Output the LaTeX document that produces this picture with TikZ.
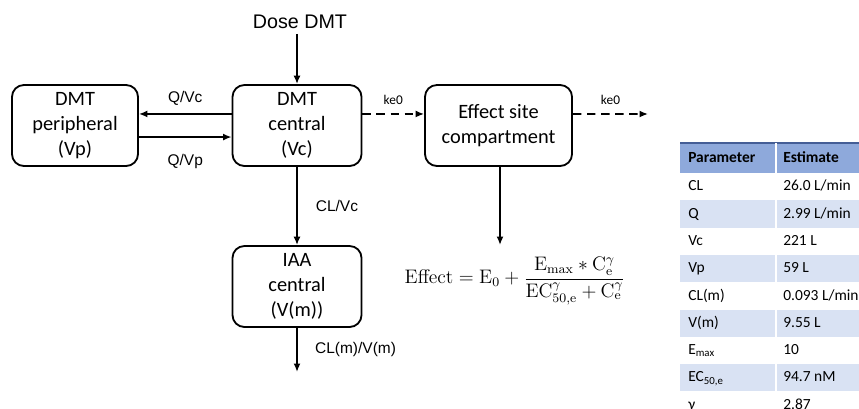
\documentclass[tikz,border=0pt]{standalone}
\usepackage{amsmath}
\usepackage[no-math]{fontspec}
\setmainfont{Carlito}
\newfontfamily\arialfont{Liberation Sans}
\usetikzlibrary{arrows.meta}

\definecolor{hdblue}{RGB}{142,169,219}
\definecolor{rowblue}{RGB}{217,226,243}
\definecolor{hdline}{RGB}{68,94,150}

\begin{document}
\begin{tikzpicture}[
        x=0.025cm, y=-0.025cm,
        comp/.style={draw, line width=1.3pt, rounded corners=8.5pt, align=center,
            minimum height=2.025cm, font=\fontsize{14.5}{17.8}\selectfont},
        arr/.style={line width=1.2pt, -{Latex[length=6pt, width=5pt]}},
        dash arr/.style={arr, dash pattern=on 6pt off 4pt},
        lbl/.style={font=\arialfont\fontsize{11}{13}\selectfont},
        kelbl/.style={font=\fontsize{9.5}{11}\selectfont},
        tab/.style={anchor=west, inner sep=0pt, text height=1.5ex, text depth=.25ex,
            font=\fontsize{11}{13}\selectfont}
    ]
    \useasboundingbox (0,0) rectangle (859,408);

    % compartments
    \node (dose) at (300,22) {\arialfont\fontsize{14}{16}\selectfont Dose DMT};
    \node[comp, minimum width=3.15cm] (periph) at (75,125.5) {DMT\\peripheral\\(Vp)};
    \node[comp, minimum width=3.225cm] (central) at (297,125.5) {DMT\\central\\(Vc)};
    \node[comp, minimum width=3.675cm] (effect) at (498.5,125.5) {Effect site\\compartment};
    \node[comp, minimum width=3.225cm] (iaa) at (297,286.5) {IAA\\central\\(V(m))};
    \node[scale=1.16] (eqn) at (515,281) {\fontsize{12}{14}\selectfont
        $\mathrm{Effect} = \mathrm{E}_0 +
        \dfrac{\mathrm{E}_{\mathrm{max}} \ast \mathrm{C}_{\mathrm{e}}^{\gamma}}
              {\mathrm{EC}_{50,\mathrm{e}}^{\gamma} + \mathrm{C}_{\mathrm{e}}^{\gamma}}$};

    \coordinate (keout) at (648,114);
    \coordinate (eff) at (500,245);
    \coordinate (mout) at (297,372);

    % flows
    \draw[arr] (dose.south -| central) -- (central);
    \draw[arr] ([yshift=8.2pt]central.west) -- node[lbl, above=2pt] (qvc) {Q/Vc}
        ([yshift=8.2pt]periph.east);
    \draw[arr] ([yshift=-8.2pt]periph.east) -- node[lbl, below=8pt] (qvp) {Q/Vp}
        ([yshift=-8.2pt]central.west);
    \draw[dash arr] ([yshift=8.2pt]central.east) -- node[kelbl, above=3pt] (kein) {ke0}
        ([yshift=8.2pt]effect.west);
    \draw[dash arr] ([yshift=8.2pt]effect.east) -- node[kelbl, above=3pt] (keel) {ke0} (keout);
    \draw[arr] (effect.south -| eff) -- (eff);
    \draw[arr] (central) -- node[lbl, right=9.5pt] (clvc) {CL/Vc} (iaa);
    \draw[arr] (iaa) -- node[lbl, right=9pt] (clm) {CL(m)/V(m)} (mout);

    % parameter table
    \begin{scope}
        \clip (0,0) rectangle (859,408);
        \fill[hdblue] (680,143) rectangle (880,173);
        \draw[hdline, line width=1.2pt] (680,143) -- (880,143);
        \foreach \k in {1,3,5,7} {
            \fill[rowblue] (680,{173+27.3*\k}) rectangle (880,{173+27.3*(\k+1)});
        }
        \draw[white, line width=1pt] (776,143) -- (776,420);
        \node[tab, font=\fontsize{11}{13}\selectfont\bfseries] (hpar) at (688,158.5) {Parameter};
        \node[tab, font=\fontsize{11}{13}\selectfont\bfseries] (hest) at (783,158.5) {Estimate};
        \foreach \pn/\pv [count=\k from 0] in {CL/{26.0 L/min}, Q/{2.99 L/min}, Vc/221 L,
                Vp/59 L, CL(m)/{0.093 L/min}, V(m)/9.55 L, E\textsubscript{max}/10,
                EC\textsubscript{50,e}/94.7 nM, γ/2.87} {
            \node[tab] (par\k) at (688,{186.65+27.3*\k}) {\pn};
            \node[tab] (est\k) at (783,{186.65+27.3*\k}) {\pv};
        }
    \end{scope}
\end{tikzpicture}
\end{document}
